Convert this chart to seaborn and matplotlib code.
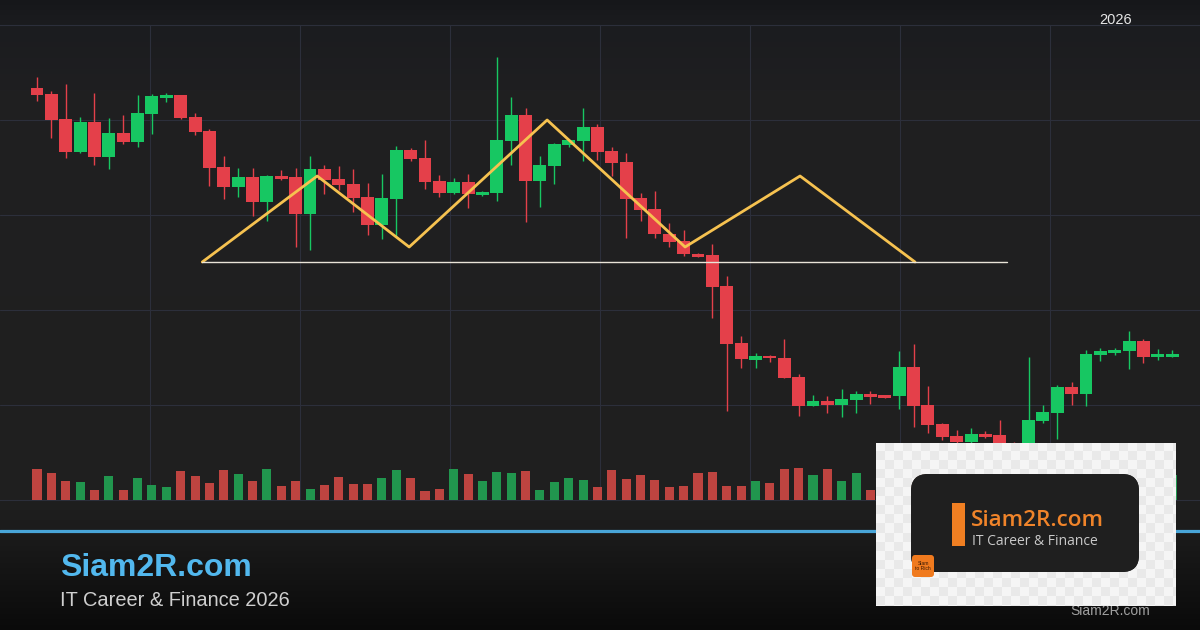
import numpy as np
import pandas as pd
import matplotlib.pyplot as plt
import seaborn as sns
from matplotlib.patches import FancyBboxPatch, Rectangle

# ---- Datos (precio en unidades del eje) -----------------------------------
apertura = [411.7, 406, 381, 348, 378, 343.3, 367, 358.3, 386.3, 402.3,
            405, 383, 369, 333.3, 313.3, 323, 298.3, 324.3, 323, 286,
            331, 321, 316, 303, 275.3, 301, 350, 342, 319, 306.7,
            318, 305, 307.3, 359.3, 385, 319.3, 334.3, 355, 359.3, 373,
            349, 338, 302, 291, 266, 259, 246, 245, 214, 157,
            140.3, 144.3, 142, 123, 94.3, 99, 95.3, 100.3, 106, 105,
            104.3, 133.3, 95.3, 76.3, 64, 58, 66, 65, 56, 46,
            79.3, 87.3, 112.7, 106, 145, 147, 149.3, 159, 143.3, 143.3]
maximo = [423.3, 408.7, 416, 382.7, 407, 381.7, 385, 405, 405.7, 407.3,
          405.3, 387, 371, 344, 332, 332, 325, 330, 332, 343.7,
          335, 334, 331, 317, 326, 354, 351.7, 360, 324.7, 321.7,
          326, 308.7, 443.3, 403, 391.7, 344, 356.7, 360.7, 391.7, 376,
          352.7, 346.7, 306.7, 309.3, 276.7, 270, 247.3, 256, 224, 164.3,
          146.7, 145, 161, 126, 105, 104, 111, 109.3, 109.3, 105.5,
          149, 156, 114, 77.3, 70, 71.7, 69, 80, 58, 143,
          94.7, 114.7, 117.7, 150, 151.7, 151.7, 169, 161.3, 151, 150]
minimo = [399.3, 362.3, 342.3, 347.3, 335.3, 330.7, 356.3, 353.3, 366.3, 398.3,
          381, 365.3, 314.3, 301.3, 303.3, 284.3, 279.3, 320, 253.3, 250,
          306, 310, 288, 265, 261.3, 263.3, 339.3, 311.3, 303.3, 306,
          292.3, 304.3, 299.3, 335, 278, 293.3, 316, 353.3, 339.3, 340,
          324, 262.3, 279.3, 261.7, 253.3, 244, 242.7, 182.3, 89.3, 132.3,
          131.7, 138.3, 121.7, 84.3, 94, 87.3, 83.3, 87.3, 96.3, 101.7,
          91.3, 73.3, 66.7, 60, 52, 50, 61.7, 50, 40, 42,
          76.7, 61.3, 95.3, 94.3, 139.3, 145.3, 131.3, 137.3, 140, 142.7]
cierre = [405.3, 380, 348.3, 378, 343.3, 367, 358.3, 387, 404, 405,
          382.3, 368.3, 332.3, 313.3, 323, 298.3, 324, 321, 286, 331,
          320, 315, 301.7, 275.3, 302, 350, 341.3, 318.3, 307.3, 317.7,
          306, 307.7, 360, 385, 319.3, 335, 356, 360, 372.7, 348.3,
          337.3, 301.3, 290, 265.7, 258, 245.7, 243.3, 213.3, 156, 140.7,
          144.3, 142, 122.3, 94.3, 99, 95.3, 101, 106, 103, 102.3,
          133.3, 94.3, 75.3, 63.3, 58, 66, 63, 57.3, 46, 80,
          88, 113, 106, 146, 149, 150, 159, 143.3, 146, 146]
volumen = [31, 27, 19, 18, 10, 24, 10, 22, 15, 13,
           29, 24, 17, 30, 26, 19, 31, 14, 19, 11,
           15, 23, 16, 16, 22, 30, 22, 9, 11, 31,
           26, 19, 28, 27, 29, 10, 18, 22, 20, 13,
           30, 21, 25, 20, 13, 14, 27, 28, 14, 14,
           19, 17, 31, 32, 25, 31, 19, 27, 10, 16,
           28, 30, 22, 18, 14, 20, 12, 24, 20, 33,
           22, 26, 15, 30, 18, 14, 21, 17, 12, 25]

# Patron hombro-cabeza-hombro y linea de cuello (indice de vela, precio)
patron_x = [11.5, 19.5, 25.9, 35.5, 45.1, 53.1, 61.1]
patron_y = [238, 324, 253, 380, 253, 324, 238]
cuello_x = [11.5, 67.5]
cuello_y = [238, 238]

# ---- Estilo -------------------------------------------------------------------
VERDE, ROJO = "#17c762", "#e4404a"
VERDE_VOL, ROJO_VOL = "#21964e", "#be4440"
GRID = "#2c2f3b"
ANCHO, ALTO = 1200, 630

sns.set_theme(style="dark")
plt.rcParams["font.family"] = ["Liberation Sans", "DejaVu Sans"]

df = pd.DataFrame({"apertura": apertura, "maximo": maximo, "minimo": minimo,
                   "cierre": cierre, "volumen": volumen})
df["indice"] = np.arange(len(df))
df["direccion"] = np.where(df["cierre"] >= df["apertura"], "sube", "baja")

fig = plt.figure(figsize=(12, 6.3), dpi=100)

# ---- Fondo con degradado (coordenadas en pixeles) ----------------------------
fondo = fig.add_axes([0, 0, 1, 1])
filas = np.arange(ALTO)
paradas = [0, 25, 90, 500, 529, 534, 630]
tonos = np.array([[22, 23, 26], [27, 28, 31], [31, 31, 33], [31, 31, 31],
                  [28, 28, 28], [27, 27, 27], [10, 10, 10]]) / 255
grad = np.stack([np.interp(filas, paradas, tonos[:, c]) for c in range(3)], axis=1)
fondo.imshow(grad[:, None, :].repeat(4, axis=1), extent=[0, ANCHO, ALTO, 0], aspect="auto")
fondo.set_xlim(0, ANCHO)
fondo.set_ylim(ALTO, 0)
fondo.axis("off")
fondo.axhline(531, color="#49a6d9", linewidth=2.3)
fondo.text(60, 568, "Siam2R.com", color="#52b8ee", fontsize=23, fontweight="bold", va="center")
fondo.text(60, 600, "IT Career & Finance 2026", color="#cfcfcf", fontsize=14.4, va="center")
fondo.text(1116, 20, "2026", color="#e6e6e6", fontsize=10.5, ha="center", va="center")
fondo.text(1110, 611, "Siam2R.com", color="#a0a0a0", fontsize=10, ha="center", va="center")

# ---- Grafico de velas ---------------------------------------------------------
paso = 14.37
x_ini = -37 / paso
x_fin = (ANCHO - 37) / paso
ax = fig.add_axes([0, 130 / ALTO, 1, 475 / ALTO])
ax.set_facecolor("none")

colores = df["direccion"].map({"sube": VERDE, "baja": ROJO})
ax.vlines(df["indice"], df["minimo"], df["maximo"], colors=colores, linewidth=1.0, zorder=3)
base = df[["apertura", "cierre"]].min(axis=1)
alto = (df["cierre"] - df["apertura"]).abs().clip(lower=2.5)
ax.bar(df["indice"], alto, bottom=base, width=0.9, color=colores,
       edgecolor="none", linewidth=0, zorder=4)

sns.lineplot(x=patron_x, y=patron_y, sort=False, estimator=None, color="#f6c250",
             linewidth=2.0, ax=ax, zorder=5)
sns.lineplot(x=cuello_x, y=cuello_y, sort=False, estimator=None, color="#e9e4d8",
             linewidth=1.0, ax=ax, zorder=5)

# volumen en eje gemelo
ax_vol = ax.twinx()
sns.barplot(data=df, x="indice", y="volumen", hue="direccion",
            palette={"sube": VERDE_VOL, "baja": ROJO_VOL}, native_scale=True,
            width=0.63, dodge=False, legend=False, saturation=1, errorbar=None,
            edgecolor="none", linewidth=0, ax=ax_vol)
ax_vol.set_ylim(0, 475)
ax_vol.set_axis_off()

ax.set_xlim(x_ini, x_fin)
ax.set_ylim(0, 475)
ax.set_xticks(np.linspace(x_ini, x_fin, 9)[1:-1])
ax.set_yticks([95, 190, 285, 380])
ax.grid(True, color=GRID, linewidth=0.8)
ax.tick_params(length=0, labelbottom=False, labelleft=False)
ax.set_xlabel("")
ax.set_ylabel("")
for lado in ["left", "right"]:
    ax.spines[lado].set_visible(False)
for lado in ["top", "bottom"]:
    ax.spines[lado].set_visible(True)
    ax.spines[lado].set_color(GRID)
    ax.spines[lado].set_linewidth(0.8)

# ---- Logo (recuadro inferior derecho) ----------------------------------------
logo = fig.add_axes([876 / ANCHO, (ALTO - 606) / ALTO, 300 / ANCHO, 163 / ALTO])
yy, xx = np.indices((163, 300))
cuadros = ((yy // 9 + xx // 9) % 2)[..., None]
damero = np.where(cuadros == 0, np.array([245, 245, 245]), np.array([233, 233, 233])) / 255
logo.imshow(damero, extent=[0, 300, 163, 0], aspect="auto", interpolation="nearest")
logo.set_xlim(0, 300)
logo.set_ylim(163, 0)
logo.axis("off")

tarjeta = FancyBboxPatch((35, 31), 228, 98, boxstyle="round,pad=0,rounding_size=17",
                         facecolor="#1f1f1f", edgecolor="none")
logo.add_patch(tarjeta)
brillo = np.linspace(0, 1, 228)
tono_tarjeta = np.stack([np.interp(brillo, [0, 0.35, 1], [58, 34, 30]),
                         np.interp(brillo, [0, 0.35, 1], [40, 30, 30]),
                         np.interp(brillo, [0, 0.35, 1], [32, 30, 30])], axis=1) / 255
img = logo.imshow(tono_tarjeta[None, :, :].repeat(4, axis=0), extent=[35, 263, 129, 31],
                  aspect="auto")
img.set_clip_path(tarjeta)
logo.add_patch(Rectangle((76, 60), 13, 43, facecolor="#f07f22", edgecolor="none"))
logo.text(95, 78, "Siam2R.com", color="#f0842a", fontsize=16.2, va="center",
          fontweight="semibold", family=["Open Sans", "DejaVu Sans"])
logo.text(96, 98.5, "IT Career & Finance", color="#c9c9c9", fontsize=10, va="center",
          family=["Open Sans", "DejaVu Sans"])
logo.add_patch(FancyBboxPatch((36, 112), 22, 22, boxstyle="round,pad=0,rounding_size=3",
                              facecolor="#f07a1e", edgecolor="none"))
logo.text(47, 123, "Siam\nto Rich", color="#3a1a05", fontsize=3.6, ha="center",
          va="center", linespacing=1.0)

fig.savefig("out.png", dpi=100)
